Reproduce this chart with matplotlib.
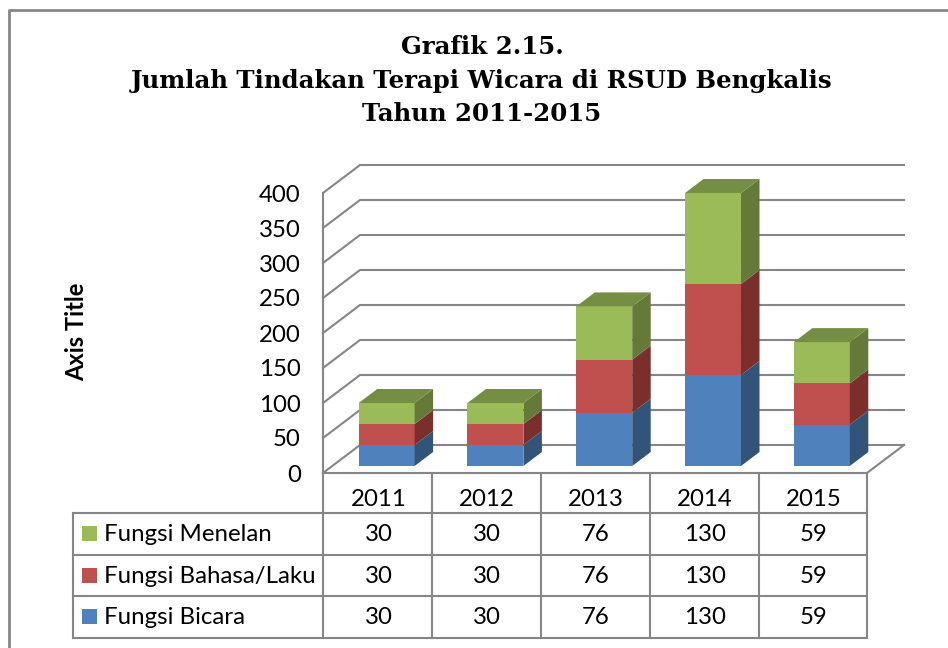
import matplotlib
matplotlib.use('Agg')
import matplotlib.pyplot as plt
from matplotlib.patches import Rectangle
from matplotlib.transforms import blended_transform_factory

# data
years = ['2011', '2012', '2013', '2014', '2015']
fungsi_bicara = [30, 30, 76, 130, 59]
fungsi_bahasa = [30, 30, 76, 130, 59]
fungsi_menelan = [30, 30, 76, 130, 59]
y_ticks = [0, 50, 100, 150, 200, 250, 300, 350, 400]

title_lines = ['Grafik 2.15.', 'Jumlah Tindakan Terapi Wicara di RSUD Bengkalis', 'Tahun 2011-2015']

# colours: front, side, top
blue = ('#4F81BD', '#325479', '#3F6797')
red = ('#C0504D', '#7B2F2D', '#9A403E')
green = ('#9BBB59', '#657A39', '#768E43')
grey = '#868686'

W, H = 948, 648
plt.rcParams['font.family'] = ['Lato', 'DejaVu Sans']

fig = plt.figure(figsize=(W / 100, H / 100), dpi=100)

# page layer in pixels, for the frame, title and table
page = fig.add_axes([0, 0, 1, 1])
page.set_xlim(0, W)
page.set_ylim(H, 0)
page.axis('off')

# plot layer lines up with the front edge of the 3d box
left, right, top, bottom = 323, 867, 193, 473
ax = fig.add_axes([left / W, 1 - bottom / H, (right - left) / W, (bottom - top) / H])
ax.patch.set_alpha(0)
ax.set_xlim(-0.5, 4.5)
ax.set_ylim(0, 400)
for s in ax.spines.values():
    s.set_visible(False)

# fake 3d depth in data units
depth_x = 0.34
depth_y = 40
bar_w = 0.514
x_pos = list(range(len(years)))

# walls and gridlines
for v in y_ticks:
    ax.plot([-0.5, -0.5 + depth_x, 4.5 + depth_x], [v, v + depth_y, v + depth_y],
            color=grey, lw=1.5, clip_on=False, zorder=1, solid_joinstyle='miter')
ax.plot([-0.5, -0.5], [0, 400], color=grey, lw=1.5, clip_on=False, zorder=1)
ax.plot([-0.5, 4.5, 4.5 + depth_x], [0, 0, depth_y], color=grey, lw=1.5, clip_on=False, zorder=1)


def draw_stack(x, start, height, cols, z):
    # one box of the stack, front face plus the side face
    dx = depth_x / 2
    dy = depth_y / 2
    x0 = x + depth_x / 4 - bar_w / 2
    x1 = x0 + bar_w
    y0 = start + depth_y / 4
    y1 = y0 + height
    ax.bar(x + depth_x / 4, height, bar_w, bottom=y0, color=cols[0], clip_on=False, zorder=z)
    ax.fill([x1, x1 + dx, x1 + dx, x1], [y0, y0 + dy, y1 + dy, y1], color=cols[1], lw=0,
            clip_on=False, zorder=z)
    return x0, x1, y1, dx, dy


for i in x_pos:
    base = 0
    for vals, cols in [(fungsi_bicara, blue), (fungsi_bahasa, red), (fungsi_menelan, green)]:
        x0, x1, y1, dx, dy = draw_stack(i, base, vals[i], cols, 3)
        base += vals[i]
    # lid on the top of the stack
    ax.fill([x0, x1, x1 + dx, x0 + dx], [y1, y1, y1 + dy, y1 + dy], color=green[2], lw=0,
            clip_on=False, zorder=3)

# y axis labels
ax.set_yticks(y_ticks)
ax.set_yticklabels([str(v) for v in y_ticks], fontsize=17.3, color='black')
ax.tick_params(axis='y', length=0, pad=16)
ax.set_xticks([])
ax.set_ylabel('Axis Title', fontsize=17, fontweight='bold')
ax.yaxis.set_label_coords((88 - left) / (right - left), 0.505)

# outer frame, only top and left show in the scan
page.plot([9, 9, W], [H, 10, 10], color=grey, lw=2, clip_on=False)

# title
for line, y in zip(title_lines, [47, 81, 114]):
    page.text(482, y, line, family='DejaVu Serif', fontweight='bold', fontsize=17.6,
              ha='center', va='center')

# data table
col_edges = [323, 432, 541, 650, 759, 867]
row_edges = [513, 554.5, 596, 637.5]
for x in col_edges:
    page.plot([x, x], [473, row_edges[-1]], color=grey, lw=1.5, zorder=1)
page.plot([73, 73], [row_edges[0], row_edges[-1]], color=grey, lw=1.5, zorder=1)
for y in row_edges:
    page.plot([73, 867], [y, y], color=grey, lw=1.5, zorder=1)

cell_tf = blended_transform_factory(ax.transData, page.transData)
for i, year in zip(x_pos, years):
    page.text(i + 0.01, 499, year, transform=cell_tf, fontsize=17.3, ha='center', va='center')

rows = [('Fungsi Menelan', fungsi_menelan, green[0]),
        ('Fungsi Bahasa/Laku', fungsi_bahasa, red[0]),
        ('Fungsi Bicara', fungsi_bicara, blue[0])]
for r, (name, vals, col) in enumerate(rows):
    yc = (row_edges[r] + row_edges[r + 1]) / 2
    page.add_patch(Rectangle((82, yc - 7.5), 15, 15, color=col, lw=0))
    page.text(104, yc + 1, name, fontsize=17.3, ha='left', va='center')
    for i in x_pos:
        page.text(i + 0.01, yc + 1, str(vals[i]), transform=cell_tf, fontsize=17.3, ha='center', va='center')

fig.savefig('out.png', dpi=100)
